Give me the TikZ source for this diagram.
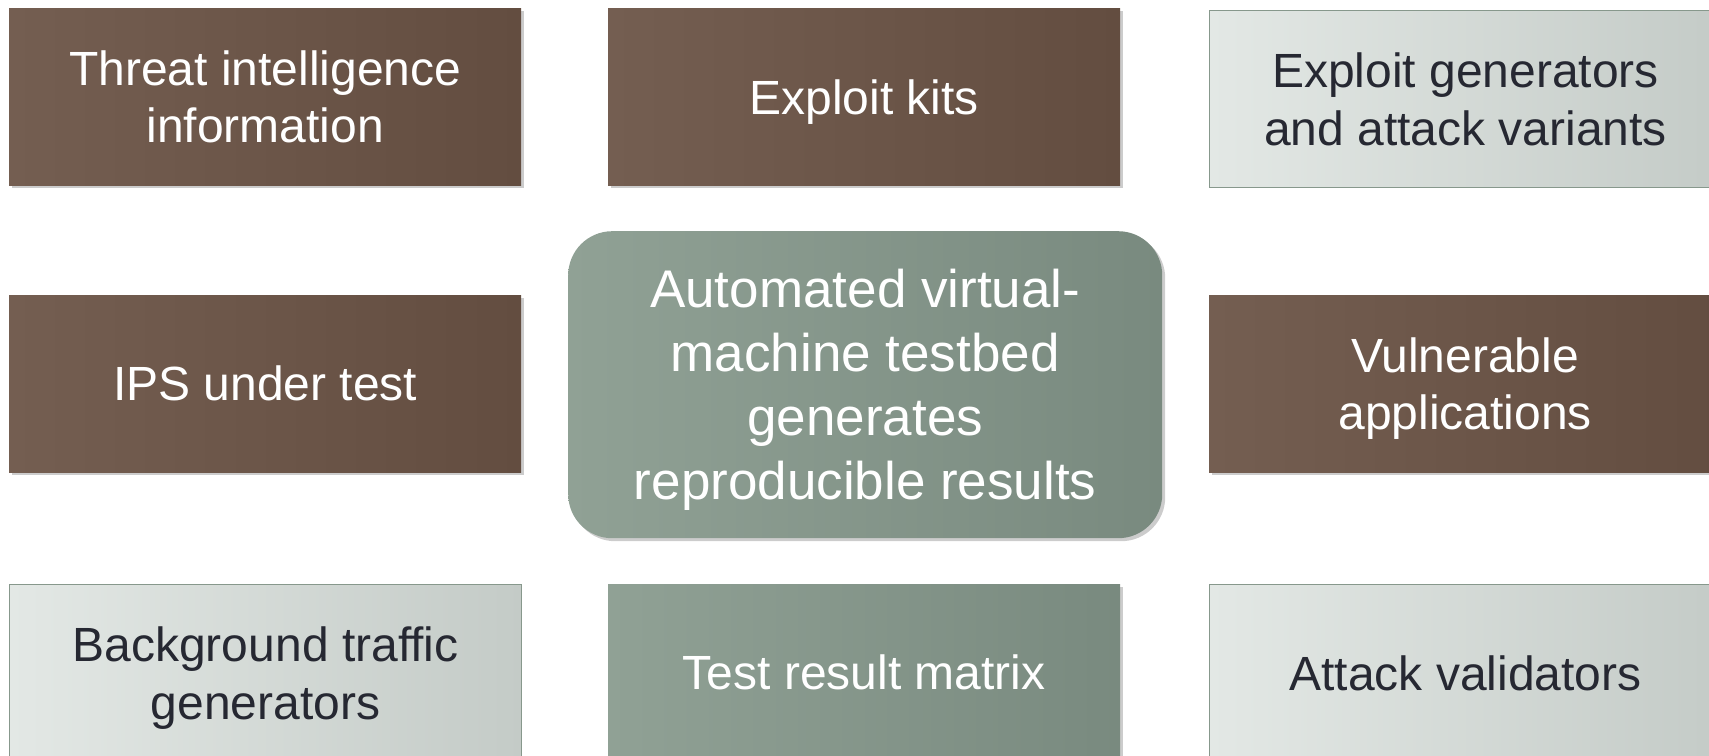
\documentclass[tikz,border=0pt]{standalone}
\usepackage{fontspec}
\setmainfont{Liberation Sans}
\usetikzlibrary{shadows}
\definecolor{brL}{RGB}{116,94,81}
\definecolor{brR}{RGB}{99,77,64}
\definecolor{grL}{RGB}{144,161,149}
\definecolor{grR}{RGB}{121,138,127}
\definecolor{ltL}{RGB}{227,232,229}
\definecolor{ltR}{RGB}{196,203,199}
\definecolor{ltB}{RGB}{135,152,140}
\definecolor{ltT}{RGB}{38,40,50}
\tikzset{
  base/.style={anchor=north west, minimum width=512bp, minimum height=177bp,
    align=center, inner sep=0pt, font=\fontsize{48bp}{57.6bp}\selectfont},
  brownbox/.style={base, shading=axis, left color=brL, right color=brR,
    text=white, drop shadow={shadow xshift=3bp, shadow yshift=-3bp, opacity=0.4}},
  greenbox/.style={base, shading=axis, left color=grL, right color=grR,
    text=white, drop shadow={shadow xshift=3bp, shadow yshift=-3bp, opacity=0.4}},
  lightbox/.style={base, shading=axis, left color=ltL, right color=ltR,
    draw=ltB, line width=1.2bp, text=ltT},
  centerbox/.style={anchor=north west, minimum width=594bp, minimum height=307bp,
    rounded corners=44bp, inner sep=0pt, shading=axis, left color=grL,
    right color=grR,
    drop shadow={shadow xshift=3bp, shadow yshift=-3bp, opacity=0.4}},
  wtext/.style={align=center, inner sep=0pt, text=white,
    font=\fontsize{48bp}{57.6bp}\selectfont},
  dtext/.style={align=center, inner sep=0pt, text=ltT,
    font=\fontsize{48bp}{57.6bp}\selectfont},
  ctext/.style={align=center, inner sep=0pt, text=white,
    font=\fontsize{53bp}{63.8bp}\selectfont}
}
\begin{document}
\begin{tikzpicture}[x=1bp, y=-1bp]
\useasboundingbox (0,0) rectangle (1709,756);
\clip (0,0) rectangle (1709,756);
\node[brownbox] (threat) at (9,8) {Threat intelligence\\information};
\node[brownbox] (kits) at (608,8) {};
\node[wtext] (kitsT) at ([yshift=-5bp]kits.center) {Exploit kits};
\node[lightbox] (gens) at (1209,10) {Exploit generators\\and attack variants};
\node[brownbox] (ips) at (9,295) {IPS under test};
\node[centerbox] (testbed) at (568,231) {};
\node[ctext] (testbedT) at ([yshift=-5bp]testbed.center) {Automated virtual-\\machine testbed\\generates\\reproducible results};
\node[brownbox] (vuln) at (1209,295) {};
\node[wtext] (vulnT) at ([yshift=-5bp]vuln.center) {Vulnerable\\applications};
\node[lightbox] (bg) at (9,584) {};
\node[dtext] (bgT) at ([yshift=-5bp]bg.center) {Background traffic\\generators};
\node[greenbox] (matrix) at (608,584) {Test result matrix};
\node[lightbox] (valid) at (1209,584) {Attack validators};
\end{tikzpicture}
\end{document}
